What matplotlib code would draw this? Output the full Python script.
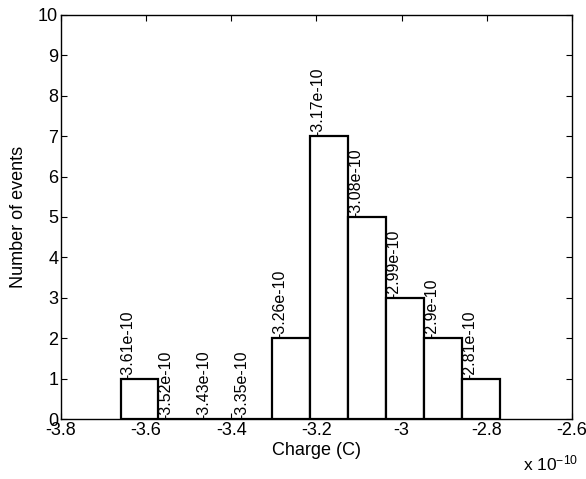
import matplotlib
matplotlib.use("Agg")
import matplotlib.pyplot as plt
from matplotlib.ticker import FuncFormatter

plt.rcParams['font.family'] = ['Liberation Sans', 'DejaVu Sans']
plt.rcParams['mathtext.fontset'] = 'custom'
plt.rcParams['mathtext.rm'] = 'Liberation Sans'
plt.rcParams['mathtext.it'] = 'Liberation Sans'
plt.rcParams['mathtext.default'] = 'regular'

# Data (charge in coulombs)
bin_edges = [-3.660e-10, -3.571e-10, -3.482e-10, -3.393e-10, -3.304e-10,
             -3.215e-10, -3.126e-10, -3.037e-10, -2.947e-10, -2.858e-10, -2.769e-10]
counts = [1, 0, 0, 0, 2, 7, 5, 3, 2, 1]
bin_labels = ['-3.61e-10', '-3.52e-10', '-3.43e-10', '-3.35e-10', '-3.26e-10',
              '-3.17e-10', '-3.08e-10', '-2.99e-10', '-2.9e-10', '-2.81e-10']
x_ticks = [-3.8e-10, -3.6e-10, -3.4e-10, -3.2e-10, -3.0e-10, -2.8e-10, -2.6e-10]
y_ticks = list(range(0, 11))

fig = plt.figure(figsize=(5.86, 4.79), dpi=100)
ax = fig.add_axes([0.104, 0.125, 0.872, 0.844])

lefts = bin_edges[:-1]
widths = [bin_edges[i + 1] - bin_edges[i] for i in range(len(counts))]
ax.bar(lefts, counts, width=widths, align='edge', facecolor='white',
       edgecolor='black', linewidth=1.6, zorder=2)

for x, c, lab in zip(lefts, counts, bin_labels):
    ax.text(x, c, lab, rotation=90, rotation_mode='anchor', ha='left', va='top',
            fontsize=11.5, color='black', zorder=3)

ax.set_xlim(-3.8e-10, -2.6e-10)
ax.set_ylim(0, 10)
ax.set_xticks(x_ticks)
ax.set_yticks(y_ticks)
ax.xaxis.set_major_formatter(FuncFormatter(lambda v, p: ('%g' % round(v * 1e10, 2))))
ax.tick_params(direction='in', top=True, right=True, length=4, width=0.8,
               labelsize=13, pad=2)
for s in ax.spines.values():
    s.set_linewidth(1.0)

ax.set_xlabel('Charge (C)', fontsize=13, labelpad=2)
ax.set_ylabel('Number of events', fontsize=13, labelpad=8)
fig.text(0.892, 0.012, 'x 10$^{\u002d10}$', fontsize=12.5, ha='left', va='bottom')

fig.savefig('out.png', dpi=100)
